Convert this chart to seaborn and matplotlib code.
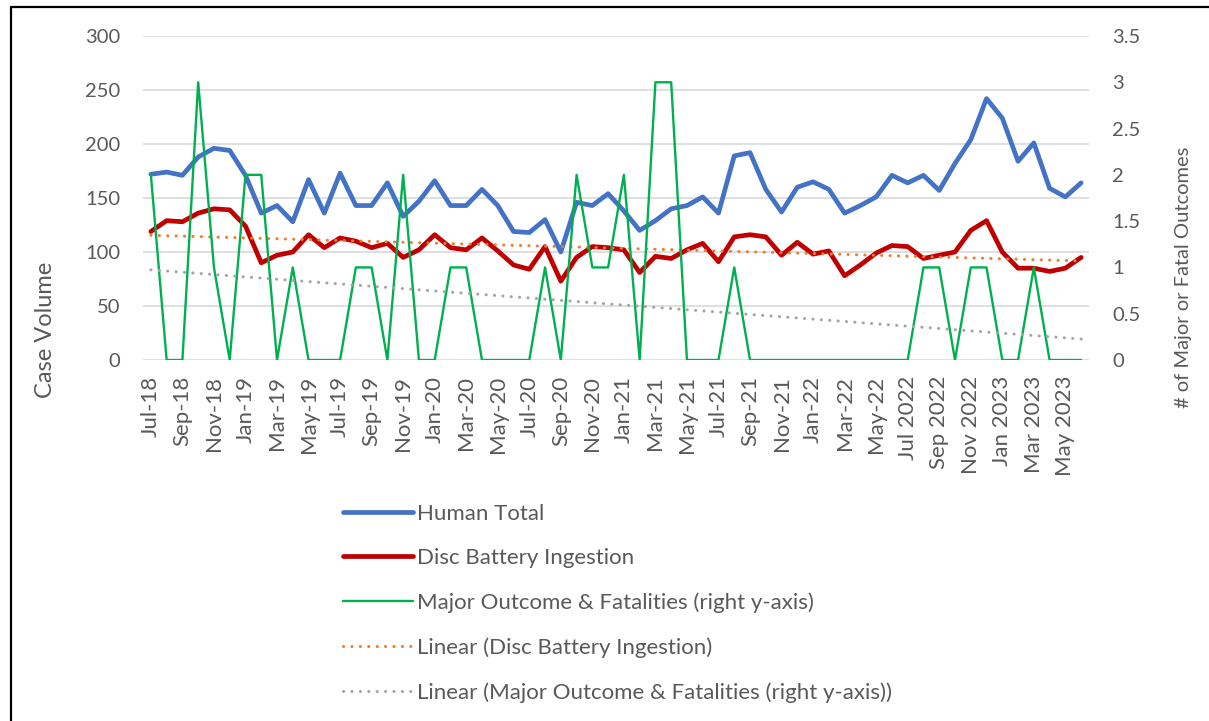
import matplotlib
matplotlib.use('Agg')
import matplotlib.pyplot as plt
import seaborn as sns
import numpy as np
import pandas as pd
from matplotlib.lines import Line2D

# tick labels (every second month, Jul-18 .. May 2023)
tick_labels = ['Jul-18', 'Sep-18', 'Nov-18', 'Jan-19', 'Mar-19', 'May-19', 'Jul-19', 'Sep-19',
               'Nov-19', 'Jan-20', 'Mar-20', 'May-20', 'Jul-20', 'Sep-20', 'Nov-20', 'Jan-21',
               'Mar-21', 'May-21', 'Jul-21', 'Sep-21', 'Nov-21', 'Jan-22', 'Mar-22', 'May-22',
               'Jul 2022', 'Sep 2022', 'Nov 2022', 'Jan 2023', 'Mar 2023', 'May 2023']

# monthly values Jul-18 .. Jun-2023
human_total = [172, 174, 171, 188, 196, 194, 171, 136, 143, 128, 167, 136, 173, 143, 143, 164, 133, 147, 166, 143,
               143, 158, 143, 119, 118, 130, 100, 146, 143, 154, 138, 120, 129, 140, 143, 151, 136, 189, 192, 158,
               137, 160, 165, 158, 136, 143, 151, 171, 164, 171, 157, 182, 204, 242, 224, 184, 201, 159, 151, 164]
disc_battery = [119, 129, 128, 136, 140, 139, 124, 90, 97, 100, 116, 104, 113, 110, 104, 108, 95, 102, 116, 104,
                102, 113, 101, 88, 84, 105, 73, 95, 105, 104, 102, 81, 96, 94, 102, 108, 91, 114, 116, 114,
                97, 109, 98, 101, 78, 88, 99, 106, 105, 94, 97, 100, 120, 129, 100, 85, 85, 82, 85, 95]
major_fatal = [2, 0, 0, 3, 1, 0, 2, 2, 0, 1, 0, 0, 0, 1, 1, 0, 2, 0, 0, 1,
               1, 0, 0, 0, 0, 1, 0, 2, 1, 1, 2, 0, 3, 3, 0, 0, 0, 1, 0, 0,
               0, 0, 0, 0, 0, 0, 0, 0, 0, 1, 1, 0, 1, 1, 0, 0, 1, 0, 0, 0]

BLUE, RED, GREEN, ORANGE, GREY = '#4472C4', '#C00000', '#00B050', '#ED7D31', '#A5A5A5'
TXT = '#595959'

sns.set_theme(style='white')
plt.rcParams['font.family'] = ['Lato', 'DejaVu Sans']

df = pd.DataFrame({'month': np.arange(len(human_total)), 'human': human_total,
                   'disc': disc_battery, 'major': major_fatal})

W, H = 1209, 721
fig = plt.figure(figsize=(W / 100, H / 100), dpi=100)
ax = fig.add_axes([143 / W, 1 - 360 / H, (1089 - 143) / W, 324 / H])
ax2 = ax.twinx()

dots = (0, (0.05, 2.7))
sns.lineplot(data=df, x='month', y='human', ax=ax, color=BLUE, lw=3.4, solid_capstyle='round')
sns.lineplot(data=df, x='month', y='disc', ax=ax, color=RED, lw=3.4, solid_capstyle='round')
sns.regplot(data=df, x='month', y='disc', ax=ax, scatter=False, ci=None,
            line_kws=dict(color=ORANGE, lw=2.2, ls=dots, dash_capstyle='round'))
sns.lineplot(data=df, x='month', y='major', ax=ax2, color=GREEN, lw=1.7)
sns.regplot(data=df, x='month', y='major', ax=ax2, scatter=False, ci=None,
            line_kws=dict(color=GREY, lw=2.2, ls=dots, dash_capstyle='round'))

ax.set_xlim(-0.5, len(human_total) - 0.5)
ax.set_ylim(0, 300)
ax2.set_ylim(0, 3.5)
ax.set_yticks(np.arange(0, 301, 50))
ax2.set_yticks(np.arange(0, 3.51, 0.5))
ax2.set_yticklabels(['0', '0.5', '1', '1.5', '2', '2.5', '3', '3.5'])
ax.set_xticks(np.arange(0, len(human_total), 2))
ax.set_xticklabels(tick_labels, rotation=90)
ax.set_xlabel('')
ax.set_ylabel('')
ax2.set_ylabel('')

ax.yaxis.grid(True, color='#D9D9D9', lw=1.2)
ax.set_axisbelow(True)
for a in (ax, ax2):
    for s in a.spines.values():
        s.set_visible(False)
    a.tick_params(length=0, labelsize=14.5, labelcolor=TXT)
ax.tick_params(axis='y', pad=16.5)
ax.tick_params(axis='x', pad=11.5, labelsize=16)
ax2.tick_params(axis='y', pad=16.5)

fig.text(45 / W, 1 - 330 / H, 'Case Volume', rotation=90, ha='center', va='center',
         fontsize=17, color=TXT)
fig.text(1184 / W, 1 - 277 / H, '# of Major or Fatal Outcomes', rotation=90, ha='center',
         va='center', fontsize=14.5, color=TXT)

handles = [Line2D([], [], color=BLUE, lw=3.4, solid_capstyle='round'),
           Line2D([], [], color=RED, lw=3.4, solid_capstyle='round'),
           Line2D([], [], color=GREEN, lw=1.7),
           Line2D([], [], color=ORANGE, lw=2.2, ls=dots, dash_capstyle='round'),
           Line2D([], [], color=GREY, lw=2.2, ls=dots, dash_capstyle='round')]
labels = ['Human Total', 'Disc Battery Ingestion', 'Major Outcome & Fatalities (right y-axis)',
          'Linear (Disc Battery Ingestion)', 'Linear (Major Outcome & Fatalities (right y-axis))']
leg = fig.legend(handles, labels, loc='upper left', bbox_to_anchor=(334 / W, 1 - 495 / H),
                 frameon=False, fontsize=16, handlelength=3.15, handletextpad=0.2,
                 labelspacing=1.09, borderaxespad=0)
for t in leg.get_texts():
    t.set_color(TXT)

# chart frame (top and left edges visible)
fig.add_artist(Line2D([11 / W, 11 / W], [0, 1 - 7 / H], color='black', lw=1.6))
fig.add_artist(Line2D([11 / W, 1], [1 - 7 / H, 1 - 7 / H], color='black', lw=1.6))

fig.savefig('out.png', dpi=100)
